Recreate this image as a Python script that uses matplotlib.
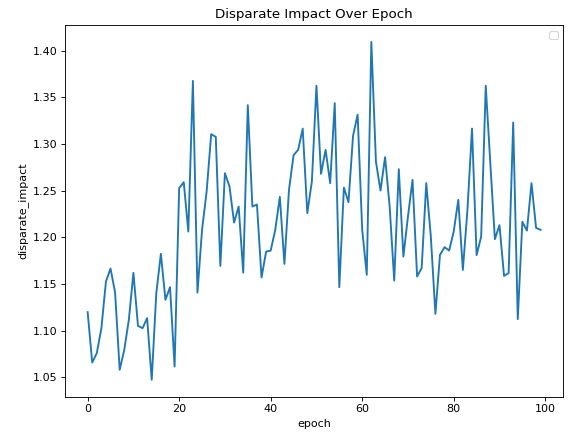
import numpy as np
import matplotlib
matplotlib.use('Agg')
import matplotlib.pyplot as plt

epochs = list(range(100))
disparate_impact = [
    1.1197, 1.0657, 1.0758, 1.1025, 1.1525, 1.1664, 1.1407, 1.0579, 1.0793, 1.1114,
    1.1618, 1.1050, 1.1025, 1.1133, 1.0472, 1.1400, 1.1822, 1.1329, 1.1465, 1.0614,
    1.2526, 1.2590, 1.2061, 1.3675, 1.1407, 1.2079, 1.2489, 1.3104, 1.3075, 1.1693,
    1.2686, 1.2543, 1.2157, 1.2329, 1.1621, 1.3415, 1.2329, 1.2350, 1.1568, 1.1846,
    1.1857, 1.2079, 1.2432, 1.1714, 1.2507, 1.2879, 1.2936, 1.3164, 1.2258, 1.2596,
    1.3622, 1.2679, 1.2936, 1.2579, 1.3436, 1.1465, 1.2532, 1.2375, 1.3086, 1.3314,
    1.2079, 1.1597, 1.4093, 1.2811, 1.2500, 1.2858, 1.2329, 1.1536, 1.2729, 1.1793,
    1.2221, 1.2614, 1.1579, 1.1671, 1.2579, 1.2007, 1.1179, 1.1811, 1.1893, 1.1857,
    1.2061, 1.2400, 1.1650, 1.2293, 1.3164, 1.1808, 1.2007, 1.3622, 1.2793, 1.1979,
    1.2129, 1.1586, 1.1615, 1.3229, 1.1122, 1.2165, 1.2071, 1.2579, 1.2100, 1.2079,
]

dpi = 80
fig, ax = plt.subplots(figsize=(568 / dpi, 433 / dpi), dpi=dpi)
fig.subplots_adjust(left=65 / 568, right=563.3 / 568, bottom=1 - 396.7 / 433, top=1 - 25 / 433)

ax.plot(epochs, disparate_impact, linewidth=1.7)
ax.set_title('Disparate Impact Over Epoch')
ax.set_xlabel('epoch')
ax.set_ylabel('disparate_impact')
ax.legend(handles=[])

plt.savefig('out.png', dpi=dpi)
